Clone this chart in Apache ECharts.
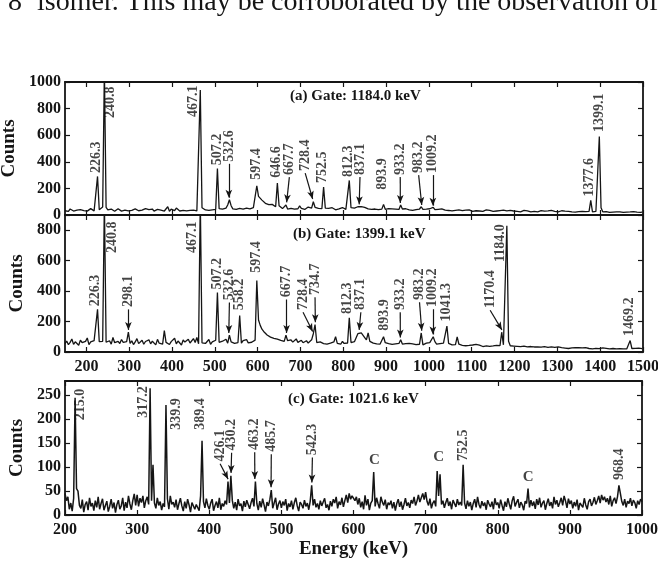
<!DOCTYPE html>
<html>
<head>
<meta charset="utf-8">
<script src="https://cdn.jsdelivr.net/npm/echarts@6/dist/echarts.min.js"></script>
<style>
  html, body { margin: 0; padding: 0; background: #fff; }
  #chart { width: 658px; height: 561px; }
</style>
</head>
<body>
<div id="chart"></div>
<script>
// channel calibration of the three spectra (keV)
var startAB = 150, stepAB = 4;
var startC = 200, stepC = 2;

// (a) gate 1184.0 keV, one row = 100 keV
var countsA = [
    32, 41, 28, 45, 38, 30, 44, 36, 27, 40, 47, 33, 39, 29, 42, 48, 35, 31, 44, 290, 40, 52, 60, 1100, 58,
    38, 30, 45, 36, 28, 41, 47, 33, 29, 44, 37, 50, 31, 42, 35, 27, 46, 39, 32, 43, 36, 30, 48, 34, 40,
    33, 45, 29, 38, 42, 31, 36, 47, 30, 41, 62, 28, 44, 39, 33, 52, 37, 30, 43, 34, 46, 31, 38, 35, 42,
    36, 44, 31, 40, 940, 55, 43, 38, 47, 34, 45, 39, 50, 42, 350, 48, 37, 44, 41, 52, 75, 115, 70, 46, 38,
    42, 38, 49, 35, 44, 40, 52, 37, 46, 41, 55, 60, 220, 140, 125, 112, 100, 88, 95, 78, 72, 80, 66, 62, 240,
    70, 55, 48, 52, 75, 45, 58, 50, 62, 44, 53, 47, 68, 49, 55, 42, 51, 60, 46, 52, 100, 58, 45, 50, 43,
    48, 210, 52, 44, 50, 41, 55, 47, 39, 52, 46, 43, 56, 48, 42, 50, 260, 55, 45, 52, 58, 62, 68, 63, 55,
    58, 50, 46, 54, 42, 49, 45, 51, 40, 47, 44, 80, 43, 38, 48, 41, 46, 39, 44, 50, 42, 75, 45, 40, 47,
    41, 38, 46, 35, 43, 40, 37, 45, 62, 42, 36, 44, 39, 47, 41, 58, 40, 35, 43, 38, 46, 42, 36, 40, 34,
    37, 31, 40, 35, 28, 38, 42, 33, 30, 36, 29, 39, 34, 27, 37, 32, 40, 30, 35, 28, 33, 38, 29, 34, 31,
    27, 35, 30, 24, 33, 29, 36, 26, 31, 28, 34, 25, 30, 37, 27, 32, 24, 29, 35, 26, 31, 28, 23, 33, 27,
    30, 24, 28, 33, 25, 29, 22, 31, 27, 34, 24, 28, 30, 23, 27, 32, 25, 29, 21, 28, 31, 24, 27, 22, 29,
    25, 21, 28, 23, 26, 20, 27, 110, 24, 22, 27, 35, 590, 55, 24, 20, 26, 22, 19, 25, 21, 27, 23, 20, 24,
    22, 19, 25, 21, 17, 23, 20, 26, 18, 22, 24, 19, 21
];

// (b) gate 1399.1 keV
var countsB = [
    55, 72, 48, 63, 85, 50, 67, 58, 44, 78, 61, 53, 70, 92, 49, 66, 57, 75, 62, 280, 68, 58, 70, 1000, 64,
    59, 74, 52, 95, 61, 48, 70, 56, 82, 63, 50, 68, 130, 57, 73, 49, 66, 88, 55, 62, 77, 51, 69, 58, 80,
    54, 71, 60, 47, 83, 58, 66, 52, 140, 63, 75, 49, 68, 57, 90, 53, 72, 61, 46, 79, 65, 55, 84, 59, 70,
    88, 62, 95, 54, 1000, 60, 73, 56, 68, 82, 51, 66, 59, 77, 390, 64, 55, 71, 60, 84, 58, 110, 66, 78, 57,
    70, 62, 240, 58, 75, 66, 82, 60, 73, 64, 69, 78, 470, 210, 175, 150, 135, 125, 112, 105, 98, 108, 90, 95, 84,
    88, 76, 82, 70, 110, 74, 68, 79, 65, 72, 86, 63, 70, 77, 61, 68, 74, 59, 66, 80, 120, 180, 62, 58, 66,
    60, 55, 68, 52, 63, 58, 49, 66, 100, 57, 62, 51, 70, 56, 64, 59, 225, 62, 54, 68, 75, 120, 130, 125, 112,
    95, 80, 125, 70, 62, 58, 66, 54, 60, 52, 57, 100, 61, 49, 55, 63, 50, 58, 53, 47, 56, 80, 52, 48, 55,
    50, 57, 45, 53, 60, 48, 55, 51, 125, 47, 54, 58, 49, 62, 75, 100, 68, 52, 46, 55, 50, 58, 49, 170, 56,
    52, 47, 55, 49, 100, 51, 46, 44, 50, 41, 48, 43, 39, 46, 42, 50, 38, 45, 41, 36, 44, 40, 47, 37, 43,
    40, 36, 44, 38, 42, 130, 47, 45, 830, 70, 41, 36, 39, 33, 37, 30, 35, 32, 38, 29, 34, 31, 36, 28, 33,
    30, 34, 27, 32, 29, 35, 26, 31, 28, 33, 25, 30, 27, 34, 24, 29, 31, 26, 28, 23, 30, 27, 25, 29, 26,
    28, 24, 27, 22, 29, 25, 23, 28, 21, 26, 24, 30, 22, 25, 27, 20, 24, 26, 21, 25, 23, 27, 20, 24, 22,
    25, 21, 24, 20, 26, 75, 23, 19, 24, 21, 25, 20, 22
];

// (c) gate 1021.6 keV, one row = 50 keV
var countsC = [
    45, 30, 38, 12, 25, 8, 35, 245, 55, 50, 20, 14, 32, 6, 22, 28, 10, 36, 18, 25, 9, 30, 16, 38, 12,
    24, 34, 10, 20, 29, 7, 18, 33, 14, 26, 5, 22, 31, 12, 19, 36, 9, 27, 15, 40, 23, 11, 30, 44, 20,
    42, 18, 35, 26, 40, 15, 30, 38, 22, 265, 30, 105, 25, 14, 36, 20, 28, 10, 24, 17, 230, 34, 12, 40, 22,
    27, 16, 32, 11, 24, 35, 19, 8, 28, 14, 33, 21, 6, 26, 30, 12, 22, 18, 9, 40, 155, 28, 15, 34, 20,
    12, 25, 33, 9, 20, 28, 15, 36, 11, 24, 18, 30, 22, 70, 25, 82, 30, 14, 27, 10, 33, 19, 24, 8, 29,
    17, 31, 22, 13, 26, 35, 18, 70, 24, 10, 29, 16, 34, 21, 7, 27, 19, 32, 52, 14, 25, 36, 11, 23, 30,
    15, 28, 20, 33, 9, 24, 17, 30, 12, 26, 36, 19, 8, 27, 22, 14, 31, 18, 25, 11, 29, 62, 20, 33, 16,
    24, 12, 30, 19, 27, 35, 15, 22, 10, 29, 18, 33, 25, 38, 14, 28, 21, 36, 17, 30, 42, 26, 45, 33, 40,
    44, 30, 38, 22, 35, 16, 28, 12, 41, 20, 33, 10, 25, 30, 90, 18, 36, 24, 14, 38, 27, 20, 32, 12, 26,
    21, 30, 14, 27, 9, 24, 33, 17, 28, 11, 22, 35, 19, 26, 15, 31, 24, 38, 20, 29, 42, 27, 36, 45, 32,
    48, 28, 20, 34, 14, 25, 30, 18, 92, 40, 85, 22, 30, 15, 26, 35, 19, 28, 12, 31, 24, 17, 33, 21, 27,
    20, 105, 25, 13, 30, 18, 27, 10, 24, 33, 16, 38, 22, 14, 29, 19, 26, 11, 31, 23, 17, 28, 12, 35, 21,
    26, 14, 32, 20, 9, 28, 17, 35, 23, 12, 30, 39, 18, 26, 33, 15, 27, 21, 10, 29, 24, 55, 16, 31, 19,
    28, 13, 33, 21, 36, 16, 25, 30, 11, 24, 34, 19, 27, 14, 38, 22, 31, 17, 26, 36, 20, 40, 29, 15, 34,
    23, 30, 14, 27, 18, 32, 10, 25, 29, 16, 35, 21, 12, 28, 33, 19, 26, 37, 22, 30, 40, 25, 42, 31, 38,
    27, 35, 22, 40, 18, 30, 36, 24, 38, 62, 45, 28, 20, 33, 16, 29, 24, 35, 19, 31, 26, 14, 30, 22, 33,
    28
];

var xTicksAB = [200, 300, 400, 500, 600, 700, 800, 900, 1000, 1100, 1200, 1300, 1400, 1500];
var xTicksC = [200, 300, 400, 500, 600, 700, 800, 900, 1000];
var yTicksA = [0, 200, 400, 600, 800, 1000];
var yTicksB = [0, 200, 400, 600, 800];
var yTicksC = [0, 50, 100, 150, 200, 250];

var gates = ['(a) Gate: 1184.0 keV', '(b) Gate: 1399.1 keV', '(c) Gate: 1021.6 keV'];

// peak labels: [energy, label x (keV), label foot (counts), arrow tip (counts) or null]
var labelsA = [
    [226.3, 223, 315, null], [240.8, 256, 730, null], [467.1, 449, 737, null],
    [507.2, 506, 375, null], [532.6, 533, 400, 130], [597.4, 597, 265, null],
    [646.6, 644, 280, null], [667.7, 674, 300, 95], [728.4, 711, 330, 120],
    [752.5, 751, 240, null], [812.3, 811, 285, null], [837.1, 839, 300, 80],
    [893.9, 892, 190, null], [933.2, 933, 300, 90], [983.2, 976, 315, 75],
    [1009.2, 1009, 315, 70], [1377.6, 1375, 140, null], [1399.1, 1398, 625, null]
];
var labelsB = [
    [226.3, 222, 300, null], [240.8, 261, 650, null], [298.1, 298, 295, 145],
    [467.1, 448, 650, null], [507.2, 506, 410, null], [532.6, 534, 340, 125],
    [558.2, 558, 275, null], [597.4, 597, 520, null], [667.7, 667, 360, 125],
    [728.4, 706, 276, 135], [734.7, 734, 375, 195], [812.3, 810, 250, null],
    [837.1, 841, 276, 145], [893.9, 895, 140, null], [933.2, 933, 276, 95],
    [983.2, 978, 342, 140], [1009.2, 1009, 296, 115], [1041.3, 1040, 200, null],
    [1170.4, 1143, 289, 145], [1184.0, 1166, 591, null], [1469.2, 1468, 105, null]
];
var labelsC = [
    [215.0, 222, 198, null], [317.2, 308, 203, null], [339.9, 354, 178, null],
    [389.4, 388, 178, null], [426.1, 415, 112, 75], [430.2, 431, 135, 88],
    [463.2, 463, 136, 75], [485.7, 486, 132, 58], [542.3, 543, 125, 68],
    [752.5, 752, 113, null], [968.4, 968, 73, null]
];
// contaminant marks in (c): [energy, counts]
var contamC = [[629, 115], [718, 121], [842, 79]];

var serif = 'Liberation Serif';
var ink = '#151515';

var chart = echarts.init(document.getElementById('chart'));

var grids = [
    { left: 65, right: 15, top: 82, height: 133, outerBoundsMode: 'none' },
    { left: 65, right: 15, top: 215, height: 137, outerBoundsMode: 'none' },
    { left: 65, right: 16, top: 381, height: 134, outerBoundsMode: 'none' }
];

var frame = { show: true, onZero: false, lineStyle: { color: ink, width: 1.8 } };

function ticks(values) {
    return { show: true, inside: true, length: 5, customValues: values, lineStyle: { color: ink, width: 1.2 } };
}

function tickLabels(values, margin) {
    return {
        show: true, customValues: values, margin: margin, color: ink,
        fontFamily: serif, fontWeight: 'bold', fontSize: 16,
        formatter: function (v) { return String(v); }
    };
}

var nameStyle = { color: ink, fontFamily: serif, fontWeight: 'bold', fontSize: 19 };

var xAxes = [], yAxes = [];

function addAxes(g, xMin, xMax, xTicks, showX, yMax, yTicks, xName) {
    xAxes.push({
        type: 'value', gridIndex: g, position: 'bottom', min: xMin, max: xMax,
        axisLine: frame, axisTick: ticks(xTicks),
        axisLabel: showX ? tickLabels(xTicks, 7) : { show: false },
        splitLine: { show: false },
        name: xName, nameLocation: 'middle', nameGap: 25, nameTextStyle: nameStyle
    });
    xAxes.push({
        type: 'value', gridIndex: g, position: 'top', min: xMin, max: xMax,
        axisLine: frame, axisTick: ticks(xTicks), axisLabel: { show: false },
        splitLine: { show: false }
    });
    yAxes.push({
        type: 'value', gridIndex: g, position: 'left', min: 0, max: yMax,
        axisLine: frame, axisTick: ticks(yTicks), axisLabel: tickLabels(yTicks, 4),
        splitLine: { show: false },
        name: 'Counts', nameLocation: 'middle', nameRotate: 90, nameGap: 38, nameTextStyle: nameStyle
    });
    yAxes.push({
        type: 'value', gridIndex: g, position: 'right', min: 0, max: yMax,
        axisLine: frame, axisTick: ticks(yTicks), axisLabel: { show: false },
        splitLine: { show: false }
    });
}

addAxes(0, 150, 1500, xTicksAB, false, 1000, yTicksA, '');
addAxes(1, 150, 1500, xTicksAB, true, 900, yTicksB, '');
addAxes(2, 200, 1000, xTicksC, true, 280, yTicksC, 'Energy (keV)');

function spectrum(g, counts, start, step, width) {
    return {
        type: 'line', xAxisIndex: g * 2, yAxisIndex: g * 2,
        data: counts.map(function (c, i) { return [start + i * step, c]; }),
        symbol: 'none', showSymbol: false, silent: true, clip: true,
        lineStyle: { color: ink, width: width }
    };
}

function notes(g, list, gap) {
    return {
        type: 'scatter', xAxisIndex: g * 2, yAxisIndex: g * 2,
        symbolSize: 0, silent: true, z: 5,
        itemStyle: { color: 'rgba(0,0,0,0)' },
        label: {
            show: true, position: 'inside', rotate: 90, align: 'left', verticalAlign: 'middle',
            color: ink, fontFamily: serif, fontWeight: 'bold', fontSize: 14
        },
        data: list.map(function (n) {
            return { value: [n[1], n[2]], label: { formatter: n[0].toFixed(1) } };
        }),
        markLine: {
            silent: true, animation: false,
            symbol: ['none', 'arrow'], symbolSize: [5, 8],
            lineStyle: { color: ink, width: 1.2, type: 'solid' },
            label: { show: false },
            data: list.filter(function (n) { return n[3] !== null; }).map(function (n) {
                return [{ coord: [n[1], n[2] - gap] }, { coord: [n[0], n[3]] }];
            })
        }
    };
}

var series = [
    spectrum(0, countsA, startAB, stepAB, 1.3),
    spectrum(1, countsB, startAB, stepAB, 1.3),
    spectrum(2, countsC, startC, stepC, 1.5),
    notes(0, labelsA, 15),
    notes(1, labelsB, 15),
    notes(2, labelsC, 5),
    {
        type: 'scatter', xAxisIndex: 4, yAxisIndex: 4, symbolSize: 0, silent: true,
        itemStyle: { color: 'rgba(0,0,0,0)' },
        label: {
            show: true, position: 'inside', formatter: 'C',
            color: ink, fontFamily: serif, fontWeight: 'bold', fontSize: 15
        },
        data: contamC
    }
];

var titleFont = { color: ink, fontFamily: serif, fontWeight: 'bold', fontSize: 15 };
var paperFont = { color: ink, fontFamily: serif, fontWeight: 'normal', fontSize: 28 };
var titles = [
    { text: gates[0], left: 290, top: 89, padding: 0, textStyle: titleFont },
    { text: gates[1], left: 293, top: 227, padding: 0, textStyle: titleFont },
    { text: gates[2], left: 288, top: 392, padding: 0, textStyle: titleFont },
    { text: '8', left: 8, top: -11, padding: 0, textStyle: paperFont },
    { text: 'isomer. This may be corroborated by the observation of', left: 37, top: -11, padding: 0,
      textStyle: paperFont }
];

chart.setOption({
    animation: false,
    backgroundColor: '#fff',
    title: titles,
    grid: grids,
    xAxis: xAxes,
    yAxis: yAxes,
    series: series
});
</script>
</body>
</html>
